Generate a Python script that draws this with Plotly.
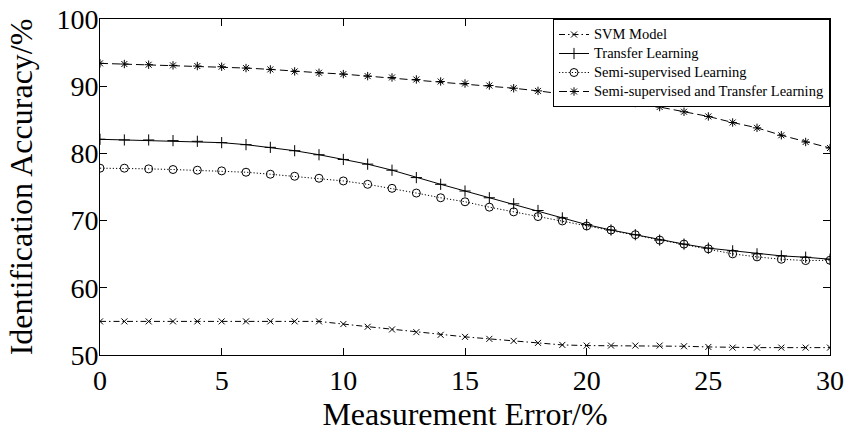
import plotly.graph_objects as go

x_err = list(range(0, 31))

svm_model = [55.0, 55.0, 55.0, 55.0, 55.0, 55.0, 55.0, 55.0, 55.0, 55.0,
             54.6, 54.2, 53.8, 53.4, 53.0, 52.7, 52.4, 52.1, 51.8, 51.5,
             51.4, 51.4, 51.4, 51.4, 51.3, 51.2, 51.1, 51.1, 51.1, 51.1, 51.1]

transfer = [82.1, 82.0, 82.0, 81.9, 81.8, 81.6, 81.3, 80.9, 80.4, 79.8,
            79.1, 78.4, 77.5, 76.4, 75.4, 74.4, 73.4, 72.5, 71.5, 70.4,
            69.4, 68.6, 67.9, 67.1, 66.5, 65.9, 65.5, 65.05, 64.75, 64.55, 64.25]

semi = [77.8, 77.8, 77.7, 77.6, 77.5, 77.4, 77.2, 76.9, 76.6, 76.3,
        75.9, 75.4, 74.8, 74.1, 73.4, 72.8, 72.0, 71.3, 70.6, 69.95,
        69.2, 68.6, 67.9, 67.1, 66.5, 65.8, 65.05, 64.6, 64.25, 64.05, 64.1]

semi_transfer = [93.4, 93.3, 93.2, 93.1, 93.0, 92.9, 92.7, 92.5, 92.2, 92.0,
                 91.8, 91.5, 91.3, 91.0, 90.7, 90.4, 90.1, 89.7, 89.3, 88.8,
                 88.4, 88.0, 87.5, 86.9, 86.2, 85.5, 84.6, 83.8, 82.7, 81.7, 80.8]

names = ["SVM Model", "Transfer Learning", "Semi-supervised Learning",
         "Semi-supervised and Transfer Learning"]

x_ticks = [0, 5, 10, 15, 20, 25, 30]
y_ticks = [50, 60, 70, 80, 90, 100]

FONT = "Liberation Serif, Times New Roman, serif"

fig = go.Figure()
styles = [
    (svm_model, "6px,3px,1.5px,3px", "x-thin-open", 6),
    (transfer, "solid", "cross-thin-open", 8),
    (semi, "1.2px,2px", "circle-open", 8),
    (semi_transfer, "8px,4px", "asterisk-open", 7),
]
for (ys, dash, sym, sz), nm in zip(styles, names):
    fig.add_trace(go.Scatter(
        x=x_err, y=ys, name='<span style="font-size:14.5px">' + nm + '</span>',
        mode="lines+markers",
        line=dict(color="black", width=1, dash=dash),
        marker=dict(symbol=sym, size=sz, color="black",
                    line=dict(color="black", width=1)),
    ))

axis_common = dict(
    showline=True, linecolor="black", linewidth=1, mirror="ticks",
    ticks="inside", ticklen=7, tickcolor="black", tickwidth=1,
    showgrid=False, zeroline=False, automargin=False,
    ticklabeloverflow="allow",
    tickfont=dict(family=FONT, size=28, color="black"),
)

fig.update_layout(
    width=845, height=432,
    margin=dict(l=100, r=15, t=19, b=77),
    paper_bgcolor="white", plot_bgcolor="white",
    font=dict(family=FONT, color="black"),
    xaxis=dict(range=[0, 30], tickvals=x_ticks,
               title=dict(text="Measurement Error/%", font=dict(family=FONT, size=32), standoff=18),
               **axis_common),
    yaxis=dict(range=[50, 100], tickvals=y_ticks, ticklabelstandoff=-5,
               title=dict(text="Identification Accuracy/%", font=dict(family=FONT, size=32), standoff=14),
               **axis_common),
    legend=dict(x=1, y=1, xanchor="right", yanchor="top",
                bgcolor="white", bordercolor="black", borderwidth=1,
                font=dict(family=FONT, size=11, color="black"),
                tracegroupgap=0, itemwidth=30),
    showlegend=True,
)

fig.write_html(
    "out.html",
    config={"displayModeBar": False},
    post_script="document.body.style.margin='0px';document.body.style.overflow='hidden';",
)
